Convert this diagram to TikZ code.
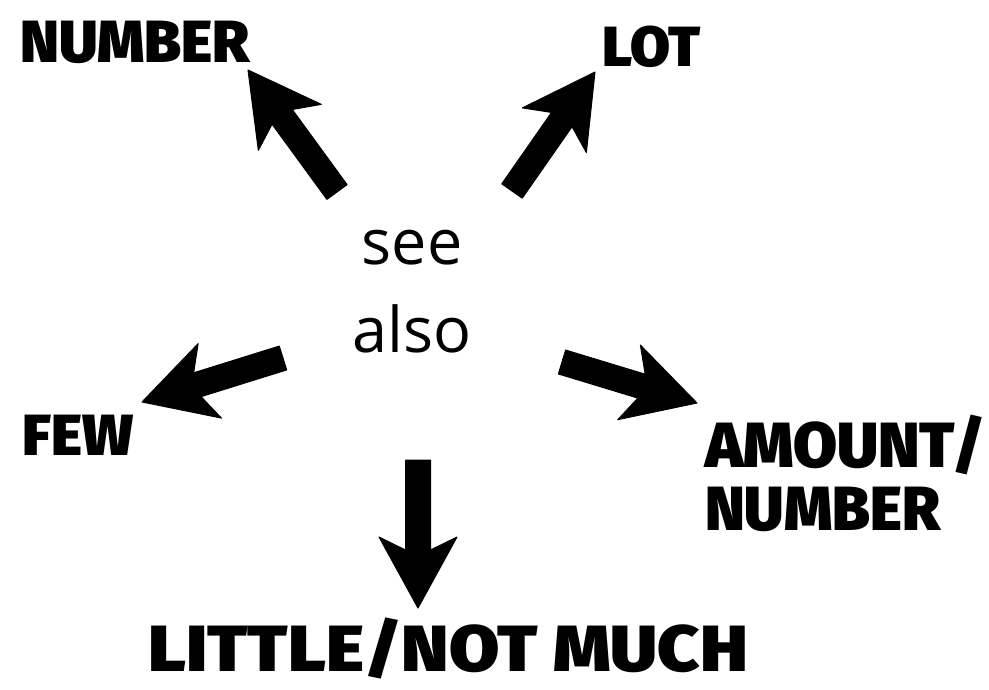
\documentclass[tikz,border=0pt]{standalone}
\usepackage{fontspec}
\usepackage{graphicx}
\usetikzlibrary{calc}
\setmainfont{Open Sans}
\def\labbold{}
\IfFontExistsTF{Fira Sans Black}
 {\newfontfamily\lblack{Fira Sans Black}\def\capratio{0.689}}
 {\IfFontExistsTF{Fira Sans Heavy}
   {\newfontfamily\lblack{Fira Sans Heavy}\def\capratio{0.689}}
   {\IfFontExistsTF{Lato Black}
     {\newfontfamily\lblack{Lato Black}\def\capratio{0.7165}}
     {\newfontfamily\lblack{Lato}[UprightFeatures={FakeBold=4},BoldFeatures={FakeBold=4}]%
      \def\capratio{0.7165}\def\labbold{\bfseries}}}}
\newcommand\caplab[3]{% cap height, width, text
  {\pgfmathsetlengthmacro\labsz{#1/\capratio}%
   \lblack\labbold\fontsize{\labsz}{\labsz}\selectfont
   \resizebox{#2}{\height}{#3}}}
\def\arrshaft{12.5pt}
\def\arrhead{39pt}
\def\arrwing{71pt}
\def\arrneck{58pt}
\newcommand\fatarrow[3]{%
  \coordinate (#1-n) at ($(#3)!\arrneck!(#2)$);
  \coordinate (#1-w) at ($(#3)!\arrwing!(#2)$);
  \fill[arrowbody] ($(#2)!\arrshaft!90:(#3)$) -- ($(#1-n)!\arrshaft!90:(#3)$)
    -- ($(#1-w)!\arrhead!90:(#3)$) -- (#3) -- ($(#1-w)!\arrhead!-90:(#3)$)
    -- ($(#1-n)!\arrshaft!-90:(#3)$) -- ($(#2)!\arrshaft!-90:(#3)$) -- cycle;
}
\begin{document}
\begin{tikzpicture}[x=1pt,y=-1pt,
  arrowbody/.style={fill=black, draw=black, line width=1pt, line join=round},
  lab/.style={inner sep=0pt, anchor=base west},
  centre/.style={inner sep=0pt, font=\fontsize{63}{88}\selectfont}]
\useasboundingbox[fill=white] (0,0) rectangle (989,690);

\node[centre, anchor=base] (seealso) at (412,265)
  {\begin{tabular}[t]{@{}c@{}}see\\also\end{tabular}};

\node[lab] (number) at (20,63) {\caplab{41pt}{230pt}{NUMBER}};
\node[lab] (lot) at (602,67) {\caplab{39pt}{98pt}{LOT}};
\node[lab] (few) at (22,455) {\caplab{40pt}{111pt}{FEW}};
\node[lab] (amount) at (705,467)
  {\fontsize{40}{63}\selectfont\begin{tabular}[t]{@{}l@{}}\caplab{44pt}{280pt}{AMOUNT/}\\
   \caplab{43pt}{235pt}{NUMBER}\end{tabular}};
\node[lab] (little) at (148,671) {\caplab{45pt}{600pt}{LITTLE/NOT MUCH}};

\coordinate (t1) at (337,192); \coordinate (h1) at (248,70);
\coordinate (t2) at (512,191); \coordinate (h2) at (595,72);
\coordinate (t3) at (283,358); \coordinate (h3) at (142,402);
\coordinate (t4) at (562,362); \coordinate (h4) at (697,403);
\coordinate (t5) at (418,460); \coordinate (h5) at (418,608);

\fatarrow{a1}{t1}{h1}
\fatarrow{a2}{t2}{h2}
\fatarrow{a3}{t3}{h3}
\fatarrow{a4}{t4}{h4}
\fatarrow{a5}{t5}{h5}
\end{tikzpicture}
\end{document}
